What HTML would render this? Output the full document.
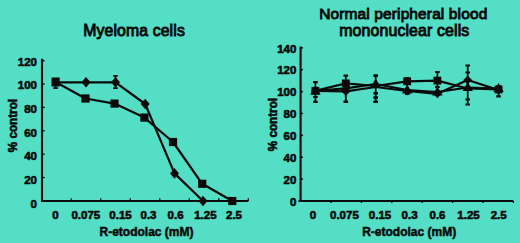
<!DOCTYPE html>
<html><head><meta charset="utf-8"><style>
html,body{margin:0;padding:0;background:#53dec5;}
body{width:520px;height:243px;overflow:hidden;}
svg{display:block;}
text{font-family:"Liberation Sans",sans-serif;fill:#0a0a0a;}
.tl{font-size:11.5px;font-weight:bold;stroke:#0a0a0a;stroke-width:0.6px;}
.ax{font-size:12px;font-weight:bold;stroke:#0a0a0a;stroke-width:0.5px;}
.yt{font-size:12.5px;font-weight:bold;stroke:#0a0a0a;stroke-width:0.6px;}
.ti{font-size:15.5px;letter-spacing:0.12px;stroke:#0a0a0a;stroke-width:0.9px;}
</style></head><body>
<svg width="520" height="243" viewBox="0 0 520 243" fill="#0a0a0a">
<rect width="520" height="243" fill="#53dec5"/>
<path d="M42 58.8V201H248.3" fill="none" stroke="#0a0a0a" stroke-width="2.1"/>
<path d="M42 60.60H44.6" stroke="#0a0a0a" stroke-width="1.4"/>
<path d="M42 84.00H44.6" stroke="#0a0a0a" stroke-width="1.4"/>
<path d="M42 107.40H44.6" stroke="#0a0a0a" stroke-width="1.4"/>
<path d="M42 130.80H44.6" stroke="#0a0a0a" stroke-width="1.4"/>
<path d="M42 154.20H44.6" stroke="#0a0a0a" stroke-width="1.4"/>
<path d="M42 177.60H44.6" stroke="#0a0a0a" stroke-width="1.4"/>
<path d="M71.22 201V198.2" stroke="#0a0a0a" stroke-width="1.3"/>
<path d="M100.74 201V198.2" stroke="#0a0a0a" stroke-width="1.3"/>
<path d="M130.26 201V198.2" stroke="#0a0a0a" stroke-width="1.3"/>
<path d="M159.78 201V198.2" stroke="#0a0a0a" stroke-width="1.3"/>
<path d="M189.30 201V198.2" stroke="#0a0a0a" stroke-width="1.3"/>
<path d="M218.82 201V198.2" stroke="#0a0a0a" stroke-width="1.3"/>
<path d="M248.34 201V198.2" stroke="#0a0a0a" stroke-width="1.3"/>
<text x="37" y="65.60" class="tl" text-anchor="end">120</text>
<text x="37" y="89.25" class="tl" text-anchor="end">100</text>
<text x="37" y="112.90" class="tl" text-anchor="end">80</text>
<text x="37" y="136.55" class="tl" text-anchor="end">60</text>
<text x="37" y="160.20" class="tl" text-anchor="end">40</text>
<text x="37" y="183.85" class="tl" text-anchor="end">20</text>
<text x="37" y="207.50" class="tl" text-anchor="end">0</text>
<text x="55.4" y="219" class="tl" text-anchor="middle">0</text>
<text x="85.8" y="219" class="tl" text-anchor="middle">0.075</text>
<text x="120.5" y="219" class="tl" text-anchor="middle">0.15</text>
<text x="148.5" y="219" class="tl" text-anchor="middle">0.3</text>
<text x="175.6" y="219" class="tl" text-anchor="middle">0.6</text>
<text x="205.4" y="219" class="tl" text-anchor="middle">1.25</text>
<text x="234.0" y="219" class="tl" text-anchor="middle">2.5</text>
<text x="146.5" y="236" class="ax" text-anchor="middle">R-etodolac (mM)</text>
<text transform="translate(17.2 125.6) rotate(-90) scale(0.935 1)" class="yt" text-anchor="middle">% control</text>
<text x="134.1" y="35.5" class="ti" style="font-size:15.8px" text-anchor="middle">Myeloma cells</text>
<path d="M55.60 82.00L85.50 98.50L114.50 103.60L144.40 117.60L173.00 142.00L202.20 183.80L232.30 201.00" fill="none" stroke="#0a0a0a" stroke-width="2.2" stroke-linejoin="round"/>
<path d="M55.60 82.30L86.00 82.30L115.50 82.30L145.20 104.00L174.50 173.40L203.00 201.00L232.30 201.00" fill="none" stroke="#0a0a0a" stroke-width="2.2" stroke-linejoin="round"/>
<path d="M55.6 80V88.1M53.2 88.1H58" fill="none" stroke="#0a0a0a" stroke-width="1.8"/>
<path d="M115.50 75.80V88.10" fill="none" stroke="#0a0a0a" stroke-width="1.8"/>
<path d="M113.20 75.80H117.80M113.20 88.10H117.80" fill="none" stroke="#0a0a0a" stroke-width="1.8"/>
<path d="M86.00 77.00L90.50 82.30L86.00 87.60L81.50 82.30Z"/>
<path d="M115.50 77.00L120.00 82.30L115.50 87.60L111.00 82.30Z"/>
<path d="M145.20 98.70L149.70 104.00L145.20 109.30L140.70 104.00Z"/>
<path d="M174.50 168.10L179.00 173.40L174.50 178.70L170.00 173.40Z"/>
<path d="M203.00 195.70L207.50 201.00L203.00 206.30L198.50 201.00Z"/>
<rect x="51.5" y="77.5" width="8.2" height="9"/>
<rect x="81.40" y="94.40" width="8.2" height="8.2"/>
<rect x="110.40" y="99.50" width="8.2" height="8.2"/>
<rect x="140.30" y="113.50" width="8.2" height="8.2"/>
<rect x="168.90" y="137.90" width="8.2" height="8.2"/>
<rect x="198.10" y="179.70" width="8.2" height="8.2"/>
<rect x="228.20" y="196.90" width="8.2" height="8.2"/>
<path d="M300.6 46.6V201H513.4" fill="none" stroke="#0a0a0a" stroke-width="2.1"/>
<path d="M300.6 47.84H303" stroke="#0a0a0a" stroke-width="1.4"/>
<path d="M300.6 69.72H303" stroke="#0a0a0a" stroke-width="1.4"/>
<path d="M300.6 91.60H303" stroke="#0a0a0a" stroke-width="1.4"/>
<path d="M300.6 113.48H303" stroke="#0a0a0a" stroke-width="1.4"/>
<path d="M300.6 135.36H303" stroke="#0a0a0a" stroke-width="1.4"/>
<path d="M300.6 157.24H303" stroke="#0a0a0a" stroke-width="1.4"/>
<path d="M300.6 179.12H303" stroke="#0a0a0a" stroke-width="1.4"/>
<path d="M298.2 201H301" stroke="#0a0a0a" stroke-width="1.4"/>
<path d="M331.00 201V203" stroke="#0a0a0a" stroke-width="1.3"/>
<path d="M361.40 201V203" stroke="#0a0a0a" stroke-width="1.3"/>
<path d="M391.80 201V203" stroke="#0a0a0a" stroke-width="1.3"/>
<path d="M422.20 201V203" stroke="#0a0a0a" stroke-width="1.3"/>
<path d="M452.60 201V203" stroke="#0a0a0a" stroke-width="1.3"/>
<path d="M483.00 201V203" stroke="#0a0a0a" stroke-width="1.3"/>
<path d="M513.40 201V203" stroke="#0a0a0a" stroke-width="1.3"/>
<text x="296.4" y="52.50" class="tl" text-anchor="end">140</text>
<text x="296.4" y="74.47" class="tl" text-anchor="end">120</text>
<text x="296.4" y="96.44" class="tl" text-anchor="end">100</text>
<text x="296.4" y="118.41" class="tl" text-anchor="end">80</text>
<text x="296.4" y="140.38" class="tl" text-anchor="end">60</text>
<text x="296.4" y="162.35" class="tl" text-anchor="end">40</text>
<text x="296.4" y="184.32" class="tl" text-anchor="end">20</text>
<text x="296.4" y="206.29" class="tl" text-anchor="end">0</text>
<text x="313" y="219" class="tl" text-anchor="middle">0</text>
<text x="344.4" y="219" class="tl" text-anchor="middle">0.075</text>
<text x="380" y="219" class="tl" text-anchor="middle">0.15</text>
<text x="409.6" y="219" class="tl" text-anchor="middle">0.3</text>
<text x="437.5" y="219" class="tl" text-anchor="middle">0.6</text>
<text x="468.5" y="219" class="tl" text-anchor="middle">1.25</text>
<text x="498.7" y="219" class="tl" text-anchor="middle">2.5</text>
<text x="409.2" y="236.4" class="ax" text-anchor="middle">R-etodolac (mM)</text>
<text transform="translate(277.4 124.6) rotate(-90) scale(0.935 1)" class="yt" text-anchor="middle">% control</text>
<text x="403.3" y="19.3" class="ti" text-anchor="middle">Normal peripheral blood</text>
<text x="404.3" y="35.8" class="ti" style="font-size:15.9px" text-anchor="middle">mononuclear cells</text>
<path d="M315.40 82.20V101.80" fill="none" stroke="#0a0a0a" stroke-width="1.8"/>
<path d="M313.10 82.20H317.70M313.10 101.80H317.70M313.10 97.00H317.70" fill="none" stroke="#0a0a0a" stroke-width="2.2"/>
<path d="M345.80 75.60V101.80" fill="none" stroke="#0a0a0a" stroke-width="1.8"/>
<path d="M343.50 75.60H348.10M343.50 101.80H348.10" fill="none" stroke="#0a0a0a" stroke-width="2.4"/>
<path d="M375.70 75.60V101.80" fill="none" stroke="#0a0a0a" stroke-width="1.8"/>
<path d="M373.40 75.60H378.00M373.40 101.80H378.00M373.40 93.20H378.00M373.40 97.50H378.00" fill="none" stroke="#0a0a0a" stroke-width="2.6"/>
<path d="M407.20 78.00V94.00" fill="none" stroke="#0a0a0a" stroke-width="1.8"/>
<path d="M404.90 78.00H409.50M404.90 94.00H409.50" fill="none" stroke="#0a0a0a" stroke-width="1.8"/>
<path d="M437.40 72.00V87.00" fill="none" stroke="#0a0a0a" stroke-width="1.8"/>
<path d="M435.10 72.00H439.70M435.10 87.00H439.70" fill="none" stroke="#0a0a0a" stroke-width="2.2"/>
<path d="M467.70 65.60V104.60" fill="none" stroke="#0a0a0a" stroke-width="1.8"/>
<path d="M465.40 65.60H470.00M465.40 104.60H470.00M465.40 72.60H470.00M465.40 99.40H470.00" fill="none" stroke="#0a0a0a" stroke-width="2.0"/>
<path d="M498.60 86.00V96.40" fill="none" stroke="#0a0a0a" stroke-width="1.8"/>
<path d="M496.30 86.00H500.90M496.30 96.40H500.90" fill="none" stroke="#0a0a0a" stroke-width="2.2"/>
<path d="M315.40 90.80L345.80 83.40L375.70 86.00L407.20 81.30L437.40 80.60L467.70 88.50L498.60 89.50" fill="none" stroke="#0a0a0a" stroke-width="2.2" stroke-linejoin="round"/>
<path d="M315.40 90.80L345.80 88.40L375.70 84.00L407.20 90.00L437.40 92.00L467.70 87.50L498.60 88.50" fill="none" stroke="#0a0a0a" stroke-width="2.2" stroke-linejoin="round"/>
<path d="M315.40 90.80L345.80 91.40L375.70 87.00L407.20 91.00L437.40 93.80L467.70 80.00L498.60 90.00" fill="none" stroke="#0a0a0a" stroke-width="2.2" stroke-linejoin="round"/>
<path d="M315.40 86.30L319.70 90.80L315.40 95.30L311.10 90.80Z"/>
<rect x="311.50" y="86.90" width="7.8" height="7.8"/>
<path d="M315.40 85.40L320.60 94.40L310.20 94.40Z"/>
<path d="M345.80 86.90L350.10 91.40L345.80 95.90L341.50 91.40Z"/>
<rect x="341.90" y="79.50" width="7.8" height="7.8"/>
<path d="M345.80 83.00L351.00 92.00L340.60 92.00Z"/>
<path d="M375.70 78.60L380.90 87.60L370.50 87.60Z"/>
<path d="M407.20 84.60L412.40 93.60L402.00 93.60Z"/>
<rect x="403.30" y="77.40" width="7.8" height="7.8"/>
<path d="M407.20 86.50L411.50 91.00L407.20 95.50L402.90 91.00Z"/>
<path d="M437.40 86.60L442.60 95.60L432.20 95.60Z"/>
<rect x="433.50" y="76.70" width="7.8" height="7.8"/>
<path d="M437.40 89.30L441.70 93.80L437.40 98.30L433.10 93.80Z"/>
<path d="M467.70 75.50L472.00 80.00L467.70 84.50L463.40 80.00Z"/>
<path d="M467.70 82.10L472.90 91.10L462.50 91.10Z"/>
<path d="M498.60 85.50L502.90 90.00L498.60 94.50L494.30 90.00Z"/>
<rect x="494.70" y="85.60" width="7.8" height="7.8"/>
<path d="M498.60 83.10L503.80 92.10L493.40 92.10Z"/>
</svg>
</body></html>
